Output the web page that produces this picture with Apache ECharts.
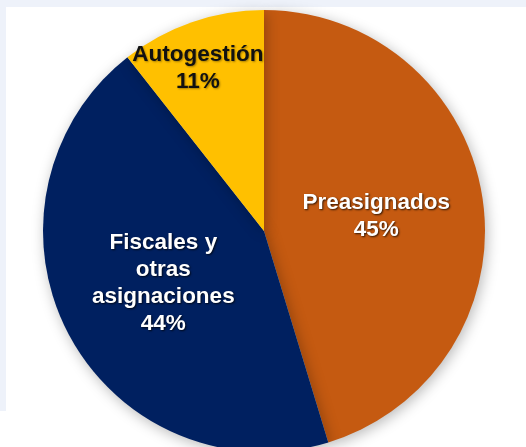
<!DOCTYPE html>
<html>
<head>
<meta charset="utf-8">
<script src="https://cdn.jsdelivr.net/npm/echarts@6/dist/echarts.min.js"></script>
<style>
  html, body { margin:0; padding:0; background:#ffffff; }
  #topbar { position:absolute; left:0; top:0; width:526px; height:7px; background:#EEF2FA; }
  #leftbar { position:absolute; left:0; top:0; width:6px; height:411px; background:#EEF2FA; }
  #chart { position:absolute; left:0; top:0; width:526px; height:447px; }
</style>
</head>
<body>
<div id="topbar"></div>
<div id="leftbar"></div>
<div id="chart"></div>
<script>
const categories = ["Preasignados", "Fiscales y\notras\nasignaciones", "Autogestión"];
const values = [45.3, 44.1, 10.6];
const percentLabels = ["45%", "44%", "11%"];
const colors = ["#C55A11", "#002060", "#FFC000"];
const labelColors = ["#ffffff", "#ffffff", "#111111"];
const labelOffsets = [[0, 2], [0, 0], [-29, -55]];

const chart = echarts.init(document.getElementById('chart'), null, { renderer: 'canvas' });
const data = categories.map((c, i) => ({
  name: c,
  value: values[i],
  itemStyle: { color: colors[i] },
  label: {
    color: labelColors[i],
    offset: labelOffsets[i],
    textShadowColor: i === 2 ? 'rgba(0,0,0,0.35)' : 'rgba(0,0,0,0.75)',
    textShadowBlur: 2,
    textShadowOffsetX: 1,
    textShadowOffsetY: 1
  }
}));
chart.setOption({
  backgroundColor: 'transparent',
  animation: false,
  series: [{
    type: 'pie',
    center: [264, 231],
    radius: [0, 221],
    startAngle: 90,
    clockwise: true,
    data: data,
    itemStyle: {
      borderWidth: 0,
      shadowBlur: 14,
      shadowColor: 'rgba(0,0,0,0.28)',
      shadowOffsetX: 2,
      shadowOffsetY: 3
    },
    label: {
      show: true,
      position: 'inside',
      fontFamily: 'Liberation Sans, Arial, sans-serif',
      fontWeight: 'bold',
      fontSize: 22.5,
      lineHeight: 27,
      align: 'center',
      formatter: function (p) { return p.name + '\n' + percentLabels[p.dataIndex]; }
    },
    labelLine: { show: false },
    emphasis: { disabled: true }
  }]
});
</script>
</body>
</html>
